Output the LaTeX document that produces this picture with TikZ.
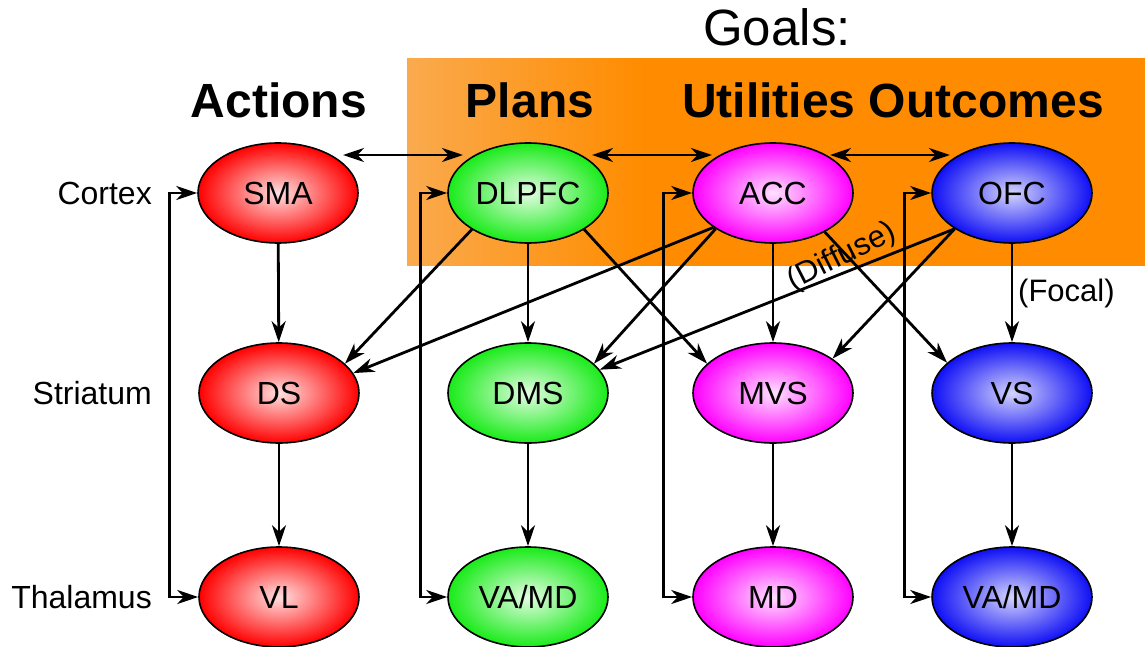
\documentclass[tikz,border=0pt]{standalone}
\usepackage{fontspec}
\setmainfont{Liberation Sans}
\usetikzlibrary{arrows.meta,calc,shapes.geometric}
\definecolor{orangeA}{RGB}{250,170,78}
\definecolor{orangeB}{RGB}{255,140,0}
\definecolor{ellred}{RGB}{255,0,0}
\definecolor{ellgreen}{RGB}{25,235,25}
\definecolor{ellmag}{RGB}{255,0,255}
\definecolor{ellblue}{RGB}{15,15,245}
\pgfdeclarehorizontalshading{goalpanel}{100bp}{color(0bp)=(orangeA); color(25bp)=(orangeA); color(41bp)=(orangeB); color(100bp)=(orangeB)}
\begin{document}
\begin{tikzpicture}[x=1pt,y=-1pt,
  ell/.style={ellipse, draw=black, line width=1.6pt, minimum width=160pt, minimum height=100pt,
    inner sep=0pt, text height=23pt, text depth=0pt, font=\fontsize{32}{32}\selectfont, shading=radial},
  redell/.style={ell, inner color=white!88!ellred, outer color=ellred},
  greenell/.style={ell, inner color=white!88!ellgreen, outer color=ellgreen},
  magell/.style={ell, inner color=white!88!ellmag, outer color=ellmag},
  blueell/.style={ell, inner color=white!82!ellblue, outer color=ellblue},
  tip/.tip={Stealth[length=21pt,width=14pt,inset=6.5pt]},
  conn/.style={line width=2.8pt, -tip},
  bconn/.style={line width=2.8pt, tip-tip},
  rowlab/.style={anchor=east, inner sep=0pt, font=\fontsize{32}{32}\selectfont},
  head/.style={anchor=base, inner sep=0pt, font=\bfseries\fontsize{48}{48}\selectfont},
  note/.style={inner sep=0pt, font=\fontsize{31}{31}\selectfont}
]
\useasboundingbox (0,0) rectangle (1145,647);
\fill[white] (0,0) rectangle (1145,647);
% orange goals panel
\shade[shading=goalpanel] (407,59) rectangle (1145,265);

% headings
\node[anchor=base, inner sep=0pt, font=\fontsize{51}{51}\selectfont] (goals) at (777,46) {Goals:};
\node[head] (actions) at (279,118) {Actions};
\node[head] (plans) at (530,118) {Plans};
\node[head] (utilout) at (893,118) {Utilities Outcomes};

% row labels
\node[rowlab] (cortex) at (152,193) {Cortex};
\node[rowlab] (striatum) at (152,393) {Striatum};
\node[rowlab] (thalamus) at (152,597) {Thalamus};

% ellipses
\node[redell] (SMA) at (278,193) {SMA};
\node[redell] (DS) at (279,393) {DS};
\node[redell] (VL) at (279,597) {VL};
\node[greenell] (DLPFC) at (528,193) {DLPFC};
\node[greenell] (DMS) at (528,393) {DMS};
\node[greenell] (VAMDa) at (528,597) {VA/MD};
\node[magell] (ACC) at (773,193) {ACC};
\node[magell] (MVS) at (773,393) {MVS};
\node[magell] (MD) at (773,597) {MD};
\node[blueell] (OFC) at (1012,193) {OFC};
\node[blueell] (VS) at (1012,393) {VS};
\node[blueell] (VAMDb) at (1012,597) {VA/MD};

% cortical double arrows
\draw[bconn] ($(SMA.center)+(65,-38)$) -- ($(DLPFC.center)+(-65,-38)$);
\draw[bconn] ($(DLPFC.center)+(64,-38)$) -- ($(ACC.center)+(-61,-38)$);
\draw[bconn] ($(ACC.center)+(57,-38)$) -- ($(OFC.center)+(-62,-38)$);

% vertical arrows
\draw[conn] (SMA) -- (DS);
\draw[conn] (DS) -- (VL);
\draw[conn] (DLPFC) -- (DMS);
\draw[conn] (DMS) -- (VAMDa);
\draw[conn] (ACC) -- (MVS);
\draw[conn] (MVS) -- (MD);
\draw[conn] (OFC) -- (VS);
\draw[conn] (VS) -- (VAMDb);

% thalamo-cortical loops
\draw[bconn] (SMA.west) -- ++(-28,0) |- (VL.west);
\draw[bconn] (DLPFC.west) -- ++(-27,0) |- (VAMDa.west);
\draw[bconn] (ACC.west) -- ++(-29,0) |- (MD.west);
\draw[bconn] (OFC.west) -- ++(-27,0) |- (VAMDb.west);

% diagonal projections
\draw[conn] (DLPFC.213) -- (DS.24);
\draw[conn] (ACC.210) -- (DS.15);
\draw[conn] (ACC.212) -- (DMS.24);
\draw[conn] (OFC.212) -- (DMS.18);
\draw[conn] (DLPFC.327) -- (MVS.156);
\draw[conn] (OFC.212) -- (MVS.30);
\draw[conn] (ACC.323) -- (VS.155);

% labels
\node[note, rotate=27] (diffuse) at (842,257) {(Diffuse)};
\node[note, anchor=base west] (focal) at (1018,301) {(Focal)};
\end{tikzpicture}
\end{document}
